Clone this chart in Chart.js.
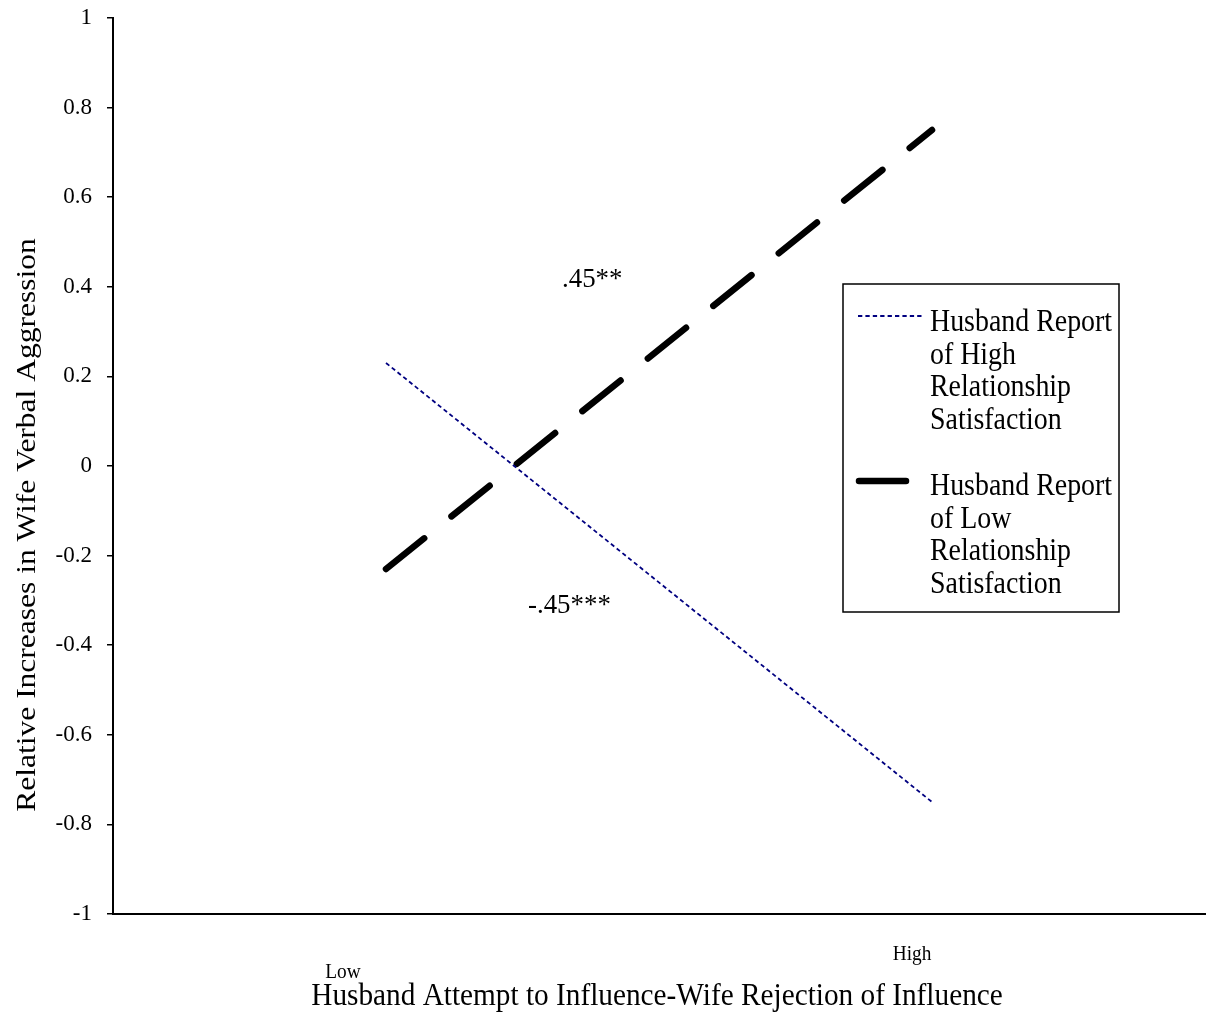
<!DOCTYPE html>
<html>
<head>
<meta charset="utf-8">
<script src="https://cdn.jsdelivr.net/npm/chart.js@4.4.1/dist/chart.umd.min.js"></script>
<style>
  html, body { margin: 0; padding: 0; background: #fff; }
  #wrap { width: 1213px; height: 1013px; position: relative; }
</style>
</head>
<body>
<div id="wrap"><canvas id="chart"></canvas></div>
<script>
// Simple slopes of wife verbal aggression on husband influence / wife rejection
const levels = ['Low', 'High'];
const levelX = [1, 3];
const highSatisfaction = [0.23, -0.75];
const lowSatisfaction = [-0.23, 0.75];
const yTicks = [-1, -0.8, -0.6, -0.4, -0.2, 0, 0.2, 0.4, 0.6, 0.8, 1];
const seriesLabels = [
  ['Husband Report', 'of High', 'Relationship', 'Satisfaction'],
  ['Husband Report', 'of Low', 'Relationship', 'Satisfaction']
];
const slopeLabels = ['-.45***', '.45**'];
const xTitle = 'Husband Attempt to Influence-Wife Rejection of Influence';
const yTitle = 'Relative Increases in Wife Verbal Aggression';

const FONT = '"Liberation Serif", "Times New Roman", serif';

function drawText(ctx, s, x, y, size, o = {}) {
  ctx.save();
  ctx.translate(x, y);
  if (o.rot) ctx.rotate(o.rot);
  ctx.scale(o.sx || 1, o.sy || 1);
  ctx.font = size + 'px ' + FONT;
  ctx.fillStyle = '#000';
  ctx.textAlign = o.align || 'left';
  ctx.textBaseline = o.base || 'alphabetic';
  ctx.fillText(s, 0, 0);
  ctx.restore();
}

const decorations = {
  id: 'decorations',
  afterDraw(chart) {
    const { ctx } = chart;
    const xs = chart.scales.x;

    // level labels under the axis
    drawText(ctx, levels[0], xs.getPixelForValue(levelX[0]) - 43, 978, 21, { align: 'center', sx: 0.92 });
    drawText(ctx, levels[1], xs.getPixelForValue(levelX[1]) - 20, 960, 21, { align: 'center', sx: 0.92 });

    // axis titles
    drawText(ctx, xTitle, 657, 1005, 32, { align: 'center', sx: 0.915 });
    drawText(ctx, yTitle, 28, 525, 31.5, { align: 'center', base: 'middle', rot: -Math.PI / 2, sy: 0.85 });

    // slope annotations
    drawText(ctx, slopeLabels[1], 562, 287, 28, { sx: 0.96 });
    drawText(ctx, slopeLabels[0], 528, 613, 28, { sx: 0.96 });

    // legend box
    ctx.save();
    ctx.strokeStyle = '#000';
    ctx.lineWidth = 1.5;
    ctx.strokeRect(843, 284, 276, 328);
    ctx.restore();

    const rows = [
      { ds: chart.data.datasets[0], lineY: 316, x0: 858, x1: 922, top: 331 },
      { ds: chart.data.datasets[1], lineY: 481, x0: 859, x1: 906, top: 495 }
    ];
    rows.forEach((r, i) => {
      ctx.save();
      ctx.strokeStyle = r.ds.borderColor;
      ctx.lineWidth = r.ds.borderWidth;
      ctx.lineCap = r.ds.borderCapStyle || 'butt';
      ctx.setLineDash(r.ds.borderDash || []);
      ctx.beginPath();
      ctx.moveTo(r.x0, r.lineY);
      ctx.lineTo(r.x1, r.lineY);
      ctx.stroke();
      ctx.restore();
      seriesLabels[i].forEach((t, k) => {
        drawText(ctx, t, 930, r.top + k * 32.7, 31, { sx: 0.9 });
      });
    });
  }
};

new Chart(document.getElementById('chart'), {
  type: 'line',
  data: {
    datasets: [
      {
        label: seriesLabels[0].join(' '),
        data: levelX.map((x, i) => ({ x, y: highSatisfaction[i] })),
        borderColor: '#000080',
        borderWidth: 1.8,
        borderDash: [4.3, 3.1],
        pointRadius: 0,
        fill: false,
        tension: 0
      },
      {
        label: seriesLabels[1].join(' '),
        data: levelX.map((x, i) => ({ x, y: lowSatisfaction[i] })),
        borderColor: '#000000',
        borderWidth: 6.5,
        borderDash: [49, 35],
        borderCapStyle: 'round',
        pointRadius: 0,
        fill: false,
        tension: 0
      }
    ]
  },
  options: {
    responsive: true,
    maintainAspectRatio: false,
    animation: false,
    layout: { padding: { left: 0, top: 18, right: 8, bottom: 99 } },
    plugins: { legend: { display: false }, tooltip: { enabled: false } },
    scales: {
      x: {
        type: 'linear',
        min: 0,
        max: 4,
        grid: { display: false, drawTicks: false },
        border: { display: true, color: '#000', width: 2 },
        ticks: { display: false },
        afterFit(s) { s.height = 0; s.paddingLeft = 0; s.paddingRight = 0; }
      },
      y: {
        type: 'linear',
        min: -1,
        max: 1,
        afterBuildTicks(s) { s.ticks = yTicks.map(v => ({ value: v })); },
        grid: { drawOnChartArea: false, drawTicks: true, tickLength: 6, color: '#000', lineWidth: 1.5 },
        border: { display: true, color: '#000', width: 2 },
        ticks: {
          padding: 15,
          color: '#000',
          font: { family: FONT, size: 23 },
          callback: v => String(v)
        },
        afterFit(s) { s.width = 113; s.paddingTop = 0; s.paddingBottom = 0; }
      }
    }
  },
  plugins: [decorations]
});
</script>
</body>
</html>
